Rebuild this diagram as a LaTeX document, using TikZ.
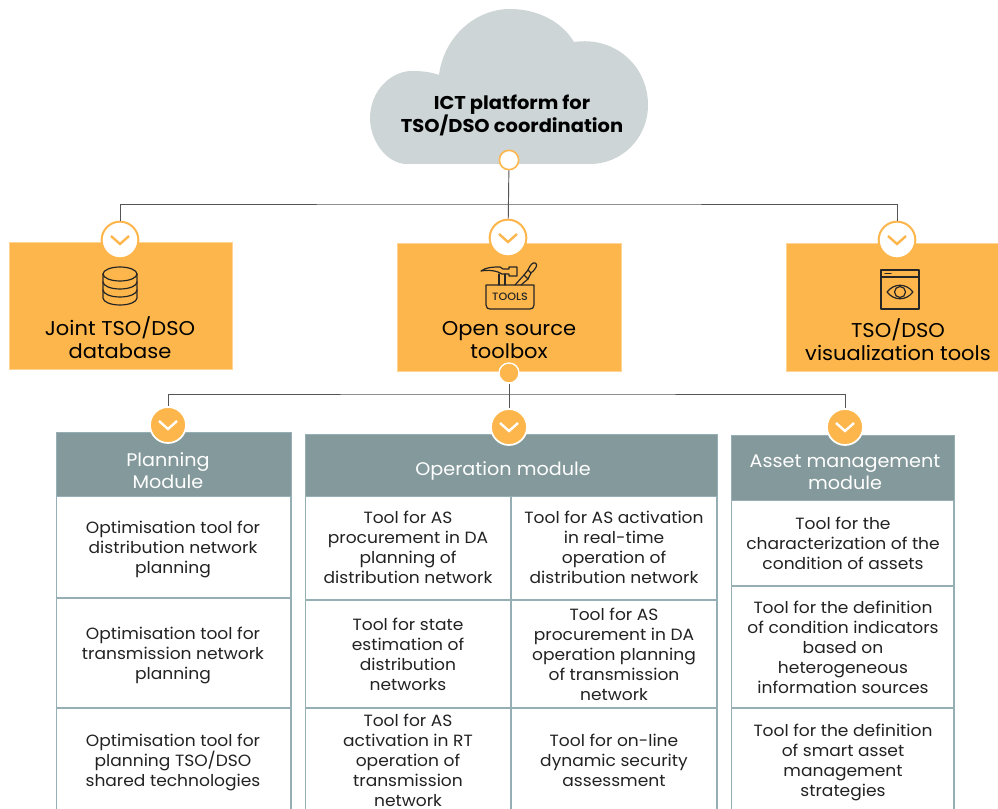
\documentclass[tikz,border=0pt]{standalone}
\usepackage{fontspec}
\setmainfont[FakeStretch=1.05]{Poppins}
\newfontfamily\medfont[FakeStretch=1.05]{Poppins Medium}
\definecolor{orangebox}{HTML}{FDB64B}
\definecolor{cloudgrey}{HTML}{CDD5D6}
\definecolor{headteal}{HTML}{84999B}
\definecolor{ruleteal}{HTML}{95AFB4}
\definecolor{inkdark}{HTML}{222222}
\definecolor{linegrey}{HTML}{555555}
\tikzset{
  orangepanel/.style={fill=orangebox,draw=orangebox!60!white,line width=0.5pt},
  headpanel/.style={fill=headteal,draw=ruleteal,line width=0.6pt},
  cellrule/.style={draw=ruleteal,line width=1.4pt},
  toollabel/.style={align=center,text=inkdark,inner sep=0pt,font=\fontsize{12.2}{15}\selectfont},
  headlabel/.style={align=center,text=white,inner sep=0pt,font=\fontsize{13.7}{16.5}\selectfont},
  boxlabel/.style={align=center,text=black,inner sep=0pt,font=\fontsize{15}{17.25}\selectfont},
  cloudlabel/.style={align=center,text=black,inner sep=0pt,font=\bfseries\fontsize{13.9}{17.25}\selectfont},
  wire/.style={draw=linegrey,line width=0.7pt},
  ringdot/.style={circle,inner sep=0pt,minimum size=27.5pt,fill=white,draw=orangebox,line width=1.5pt},
  solidot/.style={circle,inner sep=0pt,minimum size=27pt,fill=orangebox,draw=white,line width=1.3pt},
  startdot/.style={circle,inner sep=0pt,minimum size=14.5pt,fill=white,draw=orangebox,line width=1.2pt},
  enddot/.style={circle,inner sep=0pt,minimum size=15pt,fill=orangebox,draw=white,line width=1pt},
  icon/.style={draw=black!85,line width=0.9pt,line join=round,line cap=round},
}
\begin{document}
\begin{tikzpicture}[x=0.75pt,y=-0.75pt]
\useasboundingbox (0,0) rectangle (998,809);
\fill[white] (0,0) rectangle (998,809);

% cloud
\path[fill=cloudgrey] (407,164)
  .. controls (386,164) and (370,140) .. (370,118)
  .. controls (370,92) and (390,71) .. (412,71)
  .. controls (422,71) and (431,72) .. (439,75)
  .. controls (444,36) and (476,9) .. (510,9)
  .. controls (538,9) and (562,22) .. (574,42)
  .. controls (615,36) and (648,66) .. (648,105)
  .. controls (648,138) and (622,164) .. (590,164) -- cycle;
\node[cloudlabel] (platform) at (512,115) {ICT platform for\\TSO/DSO coordination};

% orange boxes
\path[orangepanel] (9,242) rectangle (232,369);
\path[orangepanel] (397,243) rectangle (621,371);
\path[orangepanel] (786,243) rectangle (999,371);
\node[boxlabel] (joint) at (120,338) {Joint TSO/DSO\\database};
\node[boxlabel] (toolbox) at (509,340) {Open source\\toolbox};
\node[boxlabel] (visual) at (898,340) {TSO/DSO\\visualization tools};

% connector dots
\node[startdot] (cloudout) at (509,160) {};
\node[ringdot] (inA) at (120,240) {};
\node[ringdot] (inB) at (508,238) {};
\node[ringdot] (inC) at (897,240) {};
\node[enddot] (toolout) at (509,373) {};
\coordinate (busA) at (509,204);
\coordinate (busB) at (509,394);

% module panels
\path[headpanel] (56,432) rectangle (291,496);
\path[headpanel] (305,434) rectangle (717,496);
\path[headpanel] (731,435) rectangle (954,500);
\draw[cellrule] (56.5,496) -- (56.5,809) (291,496) -- (291,809)
  (56,598) -- (291,598) (56,708) -- (291,708);
\draw[cellrule] (305.5,496) -- (305.5,809) (717,496) -- (717,809) (511,496) -- (511,809)
  (305,600) -- (717,600) (305,708) -- (717,708);
\draw[cellrule] (731.5,500) -- (731.5,809) (954,500) -- (954,809)
  (731,586) -- (954,586) (731,708) -- (954,708);

\node[solidot] (modA) at (168,425) {};
\node[solidot] (modB) at (509,427) {};
\node[solidot] (modC) at (845,427) {};

% wires
\draw[wire] (cloudout) -- (inB);
\draw[wire] (inA) |- (busA) -| (inC);
\draw[wire] (toolout) -- (modB);
\draw[wire] (modA) |- (busB) -| (modC);

% chevrons
\foreach \n in {inA,inB,inC}
  \draw[orangebox,line width=1.8pt,line join=miter]
    ([shift={(-9,-4)}]\n.center) -- ([shift={(0,4)}]\n.center) -- ([shift={(9,-4)}]\n.center);
\foreach \n in {modA,modB,modC}
  \draw[white,line width=1.8pt,line join=miter]
    ([shift={(-9,-4)}]\n.center) -- ([shift={(0,4)}]\n.center) -- ([shift={(9,-4)}]\n.center);

% module headers
\node[headlabel] (planhead) at (168,470.5) {Planning\\Module};
\node[headlabel] (ophead) at (503,471) {Operation module};
\node[headlabel] (assethead) at (845,472) {Asset management\\module};

% cells
\node[toollabel] (p1) at (173,549) {Optimisation tool for\\distribution network\\planning};
\node[toollabel] (p2) at (173,655) {Optimisation tool for\\transmission network\\planning};
\node[toollabel] (p3) at (173,762) {Optimisation tool for\\planning TSO/DSO\\shared technologies};
\node[toollabel] (o1) at (408,547) {Tool for AS\\procurement in DA\\planning of\\distribution network};
\node[toollabel] (o2) at (408,654) {Tool for state\\estimation of\\distribution\\networks};
\node[toollabel] (o3) at (408,760) {Tool for AS\\activation in RT\\operation of\\transmission\\network};
\node[toollabel] (o4) at (614,547) {Tool for AS activation\\in real-time\\operation of\\distribution network};
\node[toollabel] (o5) at (614,654) {Tool for AS\\procurement in DA\\operation planning\\of transmission\\network};
\node[toollabel] (o6) at (614,760) {Tool for on-line\\dynamic security\\assessment};
\node[toollabel] (a1) at (843,543) {Tool for the\\characterization of the\\condition of assets};
\node[toollabel] (a2) at (843,647) {Tool for the definition\\of condition indicators\\based on\\heterogeneous\\information sources};
\node[toollabel] (a3) at (843,762) {Tool for the definition\\of smart asset\\management\\strategies};

% database icon
\begin{scope}[icon]
\draw (120,274) ellipse[x radius=17,y radius=7];
\draw (103,274) -- (103,298) arc[start angle=180,end angle=0,x radius=17,y radius=7] -- (137,274);
\draw (103,282) arc[start angle=180,end angle=0,x radius=17,y radius=7];
\draw (103,290) arc[start angle=180,end angle=0,x radius=17,y radius=7];
\end{scope}

% toolbox icon
\begin{scope}[icon]
\draw (486,285) -- (534,285) -- (534,305) .. controls (534,308) and (532,309) .. (530,309) -- (490,309)
  .. controls (488,309) and (486,308) .. (486,305) -- cycle;
\draw (481,271) .. controls (486,267) and (494,267) .. (500,267) -- (503,269) -- (509,269) -- (509,267) -- (517,267) -- (517,276) -- (509,276) -- (509,274) -- (502,274) -- (498,272)
  .. controls (492,270) and (486,270) .. (481,271) -- cycle;
\draw (499,274) -- (499,285) (505,274) -- (505,285);
\draw (515,285) -- (524,275) -- (528,279) -- (521,285);
\draw (524,275) -- (528,270) -- (531,273) -- (528,279);
\draw (528,270) .. controls (530,265) and (533,262) .. (535,263) .. controls (538,264) and (537,268) .. (531,273);
\end{scope}
\node[inner sep=0pt,font=\fontsize{8}{8}\selectfont\medfont,text=black!85] (toolstext) at (510,297) {TOOLS};

% window-eye icon
\begin{scope}[icon]
\draw[line width=1.4pt] (881,270) rectangle (919,309);
\draw[line width=1.1pt] (881,277) -- (919,277);
\draw (885,273.5) -- (891,273.5);
\draw (887,292) .. controls (894,283) and (906,283) .. (913,292) .. controls (906,301) and (894,301) .. (887,292) -- cycle;
\draw (900,292) circle[radius=5.5];
\end{scope}
\end{tikzpicture}
\end{document}
